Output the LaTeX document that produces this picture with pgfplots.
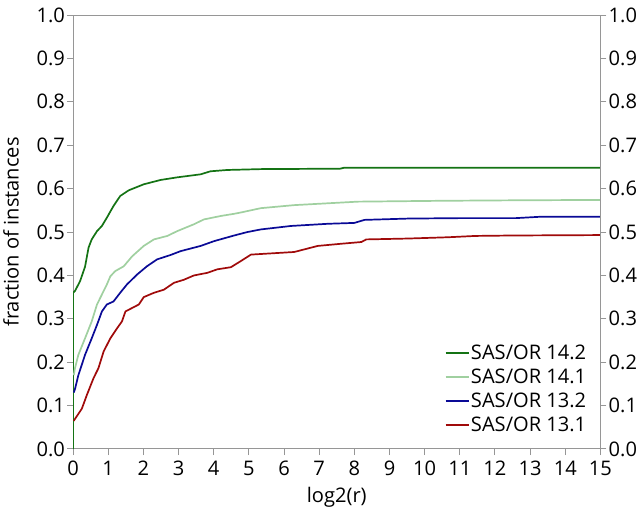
\documentclass[border=0pt]{standalone}
\usepackage{fontspec}
\setmainfont{Open Sans}
\usepackage{pgfplots}
\usepackage{pgfplotstable}
\pgfplotsset{compat=1.18}

\definecolor{gDark}{RGB}{20,115,20}
\definecolor{gLight}{RGB}{160,208,160}
\definecolor{bNavy}{RGB}{10,10,150}
\definecolor{rDark}{RGB}{160,10,10}
\definecolor{axgray}{RGB}{150,150,150}

% performance profiles
\pgfplotstableread{
x y
0 0
0 0.36
0.06 0.365
0.2 0.387
0.34 0.42
0.44 0.464
0.53 0.483
0.68 0.502
0.82 0.514
0.96 0.533
1.15 0.56
1.34 0.583
1.58 0.596
2.01 0.61
2.49 0.62
2.96 0.626
3.63 0.633
3.91 0.64
4.39 0.643
5.34 0.645
7.6 0.646
7.7 0.648
15 0.648
}\sasA
\pgfplotstableread{
x y
0.02 0.17
0.05 0.185
0.15 0.217
0.34 0.255
0.53 0.294
0.68 0.333
0.82 0.356
0.96 0.379
1.06 0.398
1.2 0.41
1.44 0.421
1.68 0.444
2.01 0.468
2.3 0.483
2.68 0.491
2.96 0.502
3.44 0.518
3.72 0.529
4.2 0.537
4.58 0.542
4.77 0.545
5.34 0.555
6.29 0.562
8.1 0.570
10.49 0.572
12.39 0.573
15 0.574
}\sasB
\pgfplotstableread{
x y
0.02 0.13
0.06 0.14
0.15 0.17
0.34 0.217
0.53 0.255
0.68 0.286
0.82 0.317
0.96 0.333
1.15 0.34
1.34 0.36
1.53 0.379
1.82 0.402
2.1 0.421
2.39 0.437
2.77 0.447
3.06 0.456
3.63 0.468
4.01 0.479
4.58 0.492
4.96 0.5
5.34 0.506
6.2 0.514
7.25 0.519
8.0 0.521
8.29 0.528
9.53 0.531
10.96 0.532
12.58 0.532
13.25 0.535
15 0.535
}\sasC
\pgfplotstableread{
x y
0.02 0.065
0.06 0.07
0.25 0.093
0.39 0.124
0.58 0.163
0.72 0.186
0.87 0.225
1.06 0.255
1.25 0.278
1.39 0.294
1.49 0.317
1.68 0.325
1.87 0.333
2.01 0.35
2.3 0.36
2.58 0.367
2.87 0.383
3.15 0.39
3.44 0.4
3.82 0.406
4.1 0.414
4.49 0.419
4.77 0.433
5.06 0.448
6.29 0.454
6.96 0.468
7.63 0.473
8.2 0.477
8.34 0.483
9.53 0.485
10.68 0.488
11.44 0.491
12.49 0.492
15 0.493
}\sasD

\begin{document}
\begin{tikzpicture}
\pgfplotsset{
  base/.style={
    scale only axis, width=525pt, height=432pt,
    xmin=0, xmax=15, ymin=0, ymax=1,
    ytick={0,0.1,...,1.0},
    yticklabel style={/pgf/number format/.cd, fixed, fixed zerofill, precision=1, assume math mode=true},
    tick align=outside, major tick length=6pt,
    tick style={axgray, line width=1pt},
    axis line style={axgray, line width=1pt},
    tick label style={font=\fontsize{20}{24}\selectfont, inner sep=2pt},
    label style={font=\fontsize{20}{24}\selectfont},
  }
}
\begin{axis}[base,
  xtick={0,1,...,15},
  xticklabel style={/pgf/number format/assume math mode=true, yshift=-4pt},
  xtick pos=bottom, ytick pos=left,
  xlabel={log2(r)}, ylabel={fraction of instances},
  xlabel style={yshift=-6pt},
  ylabel style={yshift=12pt},
  legend style={draw=none, fill=none, at={(0.982,0.028)}, anchor=south east,
    font=\fontsize{20}{24}\selectfont, row sep=5pt,
    nodes={inner sep=1.5pt}},
  legend cell align=left,
  legend image code/.code={\draw[#1] (0pt,0pt) -- (23pt,0pt);},
  every axis plot/.append style={line width=1.7pt, line join=round},
]
\addplot[gDark] table {\sasA};
\addlegendentry{SAS/OR 14.2}
\addplot[gLight] table {\sasB};
\addlegendentry{SAS/OR 14.1}
\addplot[bNavy] table {\sasC};
\addlegendentry{SAS/OR 13.2}
\addplot[rDark] table {\sasD};
\addlegendentry{SAS/OR 13.1}
\end{axis}
\begin{axis}[base,
  axis x line=none, axis y line*=right,
  axis line style={-}, ytick pos=right,
]
\end{axis}
\path (current axis.north) ++(0pt,15pt);
\end{tikzpicture}
\end{document}
